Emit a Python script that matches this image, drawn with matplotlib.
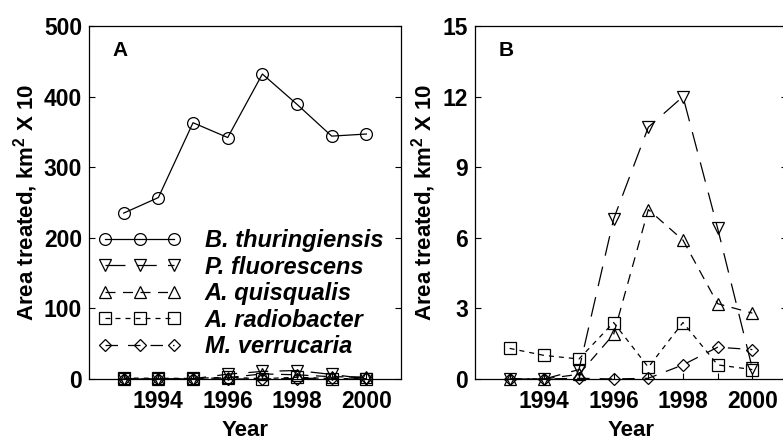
import matplotlib
matplotlib.use("Agg")
import matplotlib.pyplot as plt

plt.rcParams['font.family'] = ['Liberation Sans', 'DejaVu Sans']
plt.rcParams['font.weight'] = 'bold'
plt.rcParams['mathtext.fontset'] = 'custom'
plt.rcParams['mathtext.rm'] = 'Liberation Sans:bold'
plt.rcParams['mathtext.bf'] = 'Liberation Sans:bold'
plt.rcParams['mathtext.default'] = 'bf'

years = [1993, 1994, 1995, 1996, 1997, 1998, 1999, 2000]
b_thuringiensis = [235, 257, 363, 342, 432, 389, 344, 347]
p_fluorescens = [0, 0, 0.4, 6.8, 10.7, 12.0, 6.4, 0.45]
a_quisqualis = [0, 0, 0.2, 1.9, 7.2, 5.9, 3.2, 2.8]
a_radiobacter = [1.3, 1.0, 0.85, 2.4, 0.5, 2.4, 0.6, 0.4]
m_verrucaria = [0, 0, 0.03, 0, 0.03, 0.6, 1.35, 1.25]

names = ['B. thuringiensis', 'P. fluorescens', 'A. quisqualis',
         'A. radiobacter', 'M. verrucaria']
markers = ['o', 'v', '^', 's', 'D']
sizes = [8.5, 9, 9, 8.5, 6.5]
dashes = ['-', (0, (16, 9)), (0, (8, 6)), (0, (4, 4)), (0, (10, 8))]

fig = plt.figure(figsize=(7.83, 4.43), dpi=100)
ax1 = fig.add_axes([0.1137, 0.1445, 0.3985, 0.7968])
ax2 = fig.add_axes([0.6066, 0.1445, 0.3985, 0.7968])

series = [b_thuringiensis, p_fluorescens, a_quisqualis, a_radiobacter, m_verrucaria]

for i, vals in enumerate(series):
    ax1.plot(years, vals, color='black', lw=0.9, ls=dashes[i], marker=markers[i],
             ms=sizes[i], mfc='none', mec='black', mew=0.9, label=names[i],
             clip_on=False)
for i, vals in enumerate(series[1:], start=1):
    ax2.plot(years, vals, color='black', lw=0.9, ls=dashes[i], marker=markers[i],
             ms=sizes[i], mfc='none', mec='black', mew=0.9, clip_on=False)

ax1.set_ylim(0, 500)
ax1.set_yticks([0, 100, 200, 300, 400, 500])
ax2.set_ylim(0, 15)
ax2.set_yticks([0, 3, 6, 9, 12, 15])

for ax, letter in [(ax1, 'A'), (ax2, 'B')]:
    ax.set_xlim(1992, 2001)
    ax.set_xticks([1994, 1996, 1998, 2000])
    ax.set_xticks(years, minor=True)
    ax.tick_params(direction='in', length=4, width=0.8, labelsize=16.5,
                   right=True, top=False)
    ax.tick_params(axis='x', pad=8)
    ax.tick_params(axis='y', pad=5)
    ax.tick_params(which='minor', direction='in', length=4, width=0.8)
    for lab in ax.get_xticklabels() + ax.get_yticklabels():
        lab.set_fontweight('bold')
    for s in ax.spines.values():
        s.set_linewidth(0.9)
    ax.set_xlabel('Year', fontsize=16, fontweight='bold', labelpad=5)
    ax.set_ylabel(r'Area treated, km$^{2}$ X 10', fontsize=16, fontweight='bold',
                  labelpad=3)
    ax.text(0.075, 0.93, letter, transform=ax.transAxes, fontsize=15,
            fontweight='bold', ha='left', va='center')

leg = ax1.legend(loc='upper left', bbox_to_anchor=(0.03, 0.425), frameon=False,
                 numpoints=3, handlelength=3.5, handletextpad=1.0,
                 labelspacing=0.15, borderpad=0, borderaxespad=0,
                 prop={'size': 17, 'weight': 'bold', 'style': 'italic'})

fig.savefig('out.png', dpi=100)
